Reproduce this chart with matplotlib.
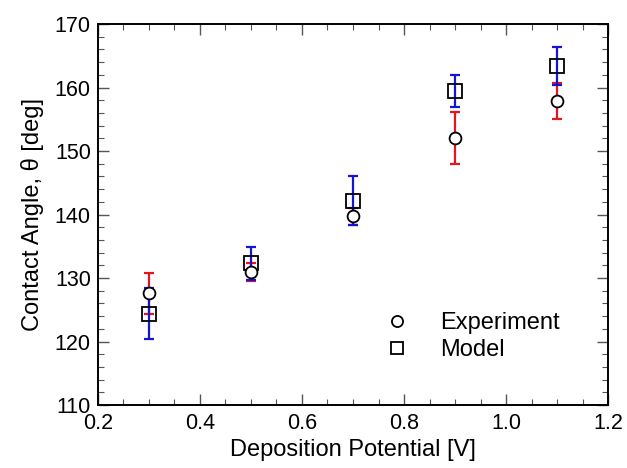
import matplotlib
matplotlib.use("Agg")
from matplotlib import pyplot as plt
from matplotlib.ticker import MultipleLocator

plt.rcParams["font.family"] = ["Liberation Sans", "DejaVu Sans"]

potential = [0.3, 0.5, 0.7, 0.9, 1.1]
exp_angle = [127.6, 131.0, 139.7, 152.0, 157.9]
exp_err = [3.2, 1.4, 1.4, 4.1, 2.8]
model_angle = [124.4, 132.3, 142.2, 159.4, 163.4]
model_err = [4.0, 2.6, 3.8, 2.5, 3.0]

fig = plt.figure(figsize=(6.27, 4.68), dpi=100)
ax = fig.add_axes([0.156, 0.1346, 0.814, 0.8141])

ax.errorbar(potential, exp_angle, yerr=exp_err, fmt="none", ecolor="#e8141c",
            elinewidth=1.6, capsize=3.8, capthick=1.6, zorder=2)
ax.errorbar(potential, model_angle, yerr=model_err, fmt="none", ecolor="#1414d8",
            elinewidth=1.6, capsize=3.8, capthick=1.6, zorder=3)
ax.plot(potential, model_angle, "s", ms=9.5, mfc="none", mec="black", mew=1.3,
        zorder=4, label="Model")
ax.plot(potential, exp_angle, "o", ms=8.5, mfc="white", mec="black", mew=1.3,
        zorder=5, label="Experiment")

ax.set_xlim(0.2, 1.2)
ax.set_ylim(110, 170)
ax.xaxis.set_major_locator(MultipleLocator(0.2))
ax.xaxis.set_minor_locator(MultipleLocator(0.05))
ax.yaxis.set_major_locator(MultipleLocator(10))
ax.yaxis.set_minor_locator(MultipleLocator(2))
ax.set_xticklabels([f"{v:.1f}" for v in ax.get_xticks()])
ax.tick_params(which="both", direction="in", top=True, right=True,
               labelsize=15.5, color="#555555")
ax.tick_params(which="major", length=8, width=1)
ax.tick_params(which="minor", length=4, width=0.8)
ax.tick_params(axis="x", pad=6)
ax.tick_params(axis="y", pad=5)
for s in ax.spines.values():
    s.set_linewidth(1.4)

ax.set_xlabel("Deposition Potential [V]", fontsize=17, labelpad=3)
ax.set_ylabel("Contact Angle, \u03b8 [deg]", fontsize=17, labelpad=8)

h, l = ax.get_legend_handles_labels()
leg = ax.legend(h[::-1], l[::-1], loc="lower right", bbox_to_anchor=(0.947, 0.06),
                frameon=False, fontsize=17, handletextpad=0.85, labelspacing=0.2)
for hd in leg.legend_handles:
    hd.set_markersize(8)
    hd.set_markerfacecolor("none")

fig.savefig("out.png", dpi=100)
